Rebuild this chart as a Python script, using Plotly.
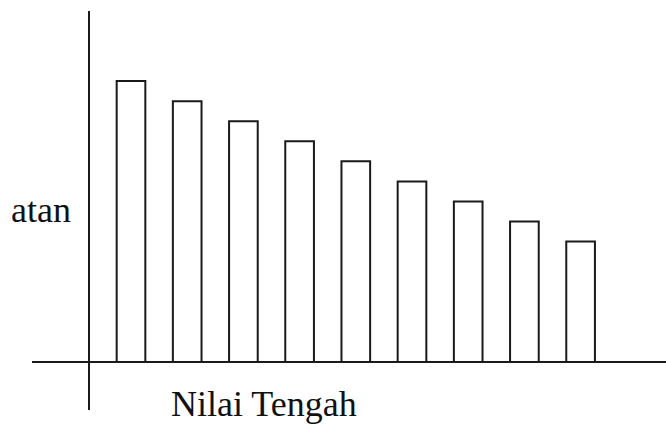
import plotly.graph_objects as go

# Data
categories = [1, 2, 3, 4, 5, 6, 7, 8, 9]
frekuensi = [28, 26, 24, 22, 20, 18, 16, 14, 12]
x_label = "Nilai Tengah"
y_label_fragment = "atan"

W, H = 666, 425

fig = go.Figure()
fig.add_trace(go.Bar(
    x=categories,
    y=frekuensi,
    width=0.51,
    marker=dict(color="white", line=dict(color="#1a1a1a", width=2)),
    hoverinfo="skip",
))

fig.update_layout(
    width=W, height=H,
    margin=dict(l=0, r=0, t=0, b=0),
    paper_bgcolor="white",
    plot_bgcolor="white",
    showlegend=False,
    xaxis=dict(
        domain=[32 / W, 1],
        range=[-0.7616, 10.5196],
        anchor="free",
        position=(H - 362) / H,
        showline=True, linecolor="#1a1a1a", linewidth=2,
        showgrid=False, zeroline=False, showticklabels=False, ticks="",
    ),
    yaxis=dict(
        domain=[(H - 410) / H, (H - 11) / H],
        range=[-4.785, 34.99],
        anchor="free",
        position=89 / W,
        showline=True, linecolor="#1a1a1a", linewidth=2,
        showgrid=False, zeroline=False, showticklabels=False, ticks="",
    ),
    annotations=[
        dict(text=x_label, xref="paper", yref="paper",
             x=169 / W, y=(H - 404) / H, xanchor="left", yanchor="middle",
             showarrow=False,
             font=dict(family="Liberation Serif", size=36, color="#111111")),
        dict(text=y_label_fragment, xref="paper", yref="paper",
             x=73 / W, y=(H - 210) / H, xanchor="right", yanchor="middle",
             showarrow=False,
             font=dict(family="Liberation Serif", size=36, color="#111111")),
    ],
)

fig.write_html(
    "out.html",
    config={"displayModeBar": False},
    post_script="document.body.style.margin='0';document.body.style.overflow='hidden';",
)
